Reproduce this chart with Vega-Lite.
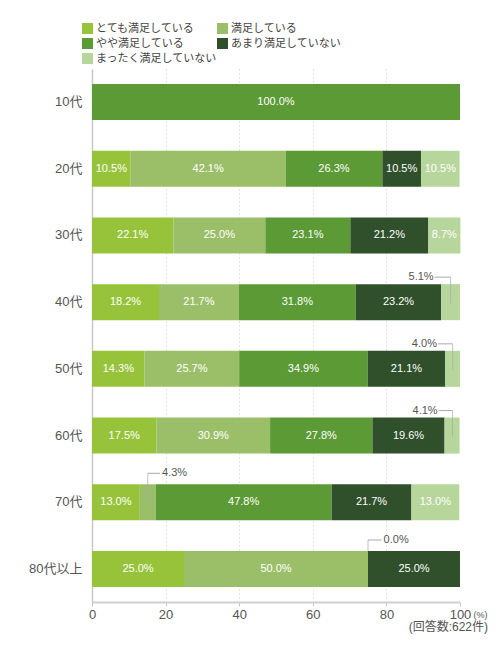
{
  "$schema": "https://vega.github.io/schema/vega-lite/v6.json",
  "autosize": "none",
  "padding": {"left": 92, "top": 69, "right": 40, "bottom": 43},
  "width": 368,
  "height": 533,
  "title": {
    "text": "(回答数:622件)",
    "orient": "bottom",
    "anchor": "end",
    "frame": "group",
    "fontSize": 12,
    "fontWeight": "normal",
    "color": "#555555",
    "dx": 28,
    "offset": 1
  },
  "config": {
    "background": "white",
    "font": "Liberation Sans, Noto Sans CJK JP",
    "view": {"stroke": null}
  },
  "datasets": {
    "main": [
      {"age": "10代", "k": 1, "cat": "とても満足している", "value": 0},
      {"age": "10代", "k": 2, "cat": "満足している", "value": 0},
      {"age": "10代", "k": 3, "cat": "やや満足している", "value": 100},
      {"age": "10代", "k": 4, "cat": "あまり満足していない", "value": 0},
      {"age": "10代", "k": 5, "cat": "まったく満足していない", "value": 0},
      {"age": "20代", "k": 1, "cat": "とても満足している", "value": 10.5},
      {"age": "20代", "k": 2, "cat": "満足している", "value": 42.1},
      {"age": "20代", "k": 3, "cat": "やや満足している", "value": 26.3},
      {"age": "20代", "k": 4, "cat": "あまり満足していない", "value": 10.5},
      {"age": "20代", "k": 5, "cat": "まったく満足していない", "value": 10.5},
      {"age": "30代", "k": 1, "cat": "とても満足している", "value": 22.1},
      {"age": "30代", "k": 2, "cat": "満足している", "value": 25.0},
      {"age": "30代", "k": 3, "cat": "やや満足している", "value": 23.1},
      {"age": "30代", "k": 4, "cat": "あまり満足していない", "value": 21.2},
      {"age": "30代", "k": 5, "cat": "まったく満足していない", "value": 8.7},
      {"age": "40代", "k": 1, "cat": "とても満足している", "value": 18.2},
      {"age": "40代", "k": 2, "cat": "満足している", "value": 21.7},
      {"age": "40代", "k": 3, "cat": "やや満足している", "value": 31.8},
      {"age": "40代", "k": 4, "cat": "あまり満足していない", "value": 23.2},
      {"age": "40代", "k": 5, "cat": "まったく満足していない", "value": 5.1},
      {"age": "50代", "k": 1, "cat": "とても満足している", "value": 14.3},
      {"age": "50代", "k": 2, "cat": "満足している", "value": 25.7},
      {"age": "50代", "k": 3, "cat": "やや満足している", "value": 34.9},
      {"age": "50代", "k": 4, "cat": "あまり満足していない", "value": 21.1},
      {"age": "50代", "k": 5, "cat": "まったく満足していない", "value": 4.0},
      {"age": "60代", "k": 1, "cat": "とても満足している", "value": 17.5},
      {"age": "60代", "k": 2, "cat": "満足している", "value": 30.9},
      {"age": "60代", "k": 3, "cat": "やや満足している", "value": 27.8},
      {"age": "60代", "k": 4, "cat": "あまり満足していない", "value": 19.6},
      {"age": "60代", "k": 5, "cat": "まったく満足していない", "value": 4.1},
      {"age": "70代", "k": 1, "cat": "とても満足している", "value": 13.0},
      {"age": "70代", "k": 2, "cat": "満足している", "value": 4.3},
      {"age": "70代", "k": 3, "cat": "やや満足している", "value": 47.8},
      {"age": "70代", "k": 4, "cat": "あまり満足していない", "value": 21.7},
      {"age": "70代", "k": 5, "cat": "まったく満足していない", "value": 13.0},
      {"age": "80代以上", "k": 1, "cat": "とても満足している", "value": 25.0},
      {"age": "80代以上", "k": 2, "cat": "満足している", "value": 50.0},
      {"age": "80代以上", "k": 3, "cat": "やや満足している", "value": 0},
      {"age": "80代以上", "k": 4, "cat": "あまり満足していない", "value": 25.0},
      {"age": "80代以上", "k": 5, "cat": "まったく満足していない", "value": 0}
    ],
    "callouts": [
      {"age": "40代", "xs": 97.45, "xl": 93.1, "label": "5.1%", "side": "left"},
      {"age": "50代", "xs": 98.0, "xl": 94.0, "label": "4.0%", "side": "left"},
      {"age": "60代", "xs": 97.95, "xl": 94.2, "label": "4.1%", "side": "left"},
      {"age": "70代", "xs": 15.15, "xl": 18.5, "label": "4.3%", "side": "right"},
      {"age": "80代以上", "xs": 75.0, "xl": 78.7, "label": "0.0%", "side": "right"}
    ]
  },
  "data": {"name": "main"},
  "encoding": {
    "y": {
      "field": "age",
      "type": "nominal",
      "sort": ["10代", "20代", "30代", "40代", "50代", "60代", "70代", "80代以上"],
      "scale": {"paddingInner": 0.46, "paddingOuter": 0.225},
      "axis": {
        "title": null,
        "ticks": false,
        "domainColor": "#c8c8c8",
        "domainWidth": 1.5,
        "labelFontSize": 13,
        "labelColor": "#555555",
        "labelPadding": 10
      }
    }
  },
  "layer": [
    {
      "transform": [
        {"stack": "value", "groupby": ["age"], "sort": [{"field": "k", "order": "ascending"}], "as": ["v0", "v1"]}
      ],
      "mark": {"type": "bar"},
      "encoding": {
        "x": {
          "field": "v0",
          "type": "quantitative",
          "scale": {"domain": [0, 100], "nice": false},
          "axis": {
            "title": "(%)",
            "values": [0, 20, 40, 60, 80, 100],
            "labelFlush": false,
            "grid": true,
            "gridDash": [1, 3],
            "gridColor": "#c8c8c8",
            "gridOpacity": {"condition": {"test": "datum.value > 0 && datum.value < 100", "value": 1}, "value": 0},
            "domainColor": "#d0d0d0",
            "domainWidth": 2,
            "tickColor": "#c8c8c8",
            "tickSize": 4,
            "labelFontSize": 13,
            "labelColor": "#555555",
            "labelPadding": 2,
            "titleX": 381,
            "titleY": 12,
            "titleAlign": "left",
            "titleBaseline": "middle",
            "titleFontSize": 9,
            "titleFontWeight": "normal",
            "titleColor": "#555555"
          }
        },
        "x2": {"field": "v1"},
        "color": {
          "field": "cat",
          "type": "nominal",
          "scale": {
            "domain": ["とても満足している", "満足している", "やや満足している", "あまり満足していない", "まったく満足していない"],
            "range": ["#97c33a", "#9bbf69", "#5b9a35", "#2f502b", "#b7d69b"]
          },
          "legend": {
            "title": null,
            "orient": "none",
            "legendX": -10,
            "legendY": -46,
            "direction": "horizontal",
            "columns": 2,
            "columnPadding": -16,
            "rowPadding": 3,
            "symbolType": "square",
            "symbolSize": 121,
            "symbolStrokeWidth": 0,
            "symbolOpacity": 1,
            "labelFontSize": 11,
            "labelColor": "#444444",
            "labelOffset": 3
          }
        }
      }
    },
    {
      "transform": [
        {"stack": "value", "groupby": ["age"], "sort": [{"field": "k", "order": "ascending"}], "as": ["v0", "v1"]},
        {"filter": "datum.value >= 6"},
        {"calculate": "(datum.v0 + datum.v1) / 2", "as": "mid"},
        {"calculate": "format(datum.value, '.1f') + '%'", "as": "lbl"}
      ],
      "mark": {"type": "text", "color": "white", "fontSize": 11, "baseline": "middle"},
      "encoding": {
        "x": {"field": "mid", "type": "quantitative"},
        "text": {"field": "lbl"}
      }
    },
    {
      "data": {"name": "callouts"},
      "transform": [{"filter": "datum.side === 'left'"}],
      "mark": {"type": "rule", "color": "#aaaaaa", "strokeWidth": 1, "yOffset": -25},
      "encoding": {
        "x": {"field": "xs", "type": "quantitative"},
        "x2": {"field": "xl"}
      }
    },
    {
      "data": {"name": "callouts"},
      "transform": [{"filter": "datum.side === 'left'"}],
      "mark": {"type": "tick", "color": "#aaaaaa", "thickness": 1, "size": 26, "yOffset": -12},
      "encoding": {
        "x": {"field": "xs", "type": "quantitative"}
      }
    },
    {
      "data": {"name": "callouts"},
      "transform": [{"filter": "datum.side === 'left'"}],
      "mark": {"type": "text", "align": "right", "baseline": "middle", "dx": -1, "yOffset": -25, "fontSize": 11, "color": "#555555"},
      "encoding": {
        "x": {"field": "xl", "type": "quantitative"},
        "text": {"field": "label"}
      }
    },
    {
      "data": {"name": "callouts"},
      "transform": [{"filter": "datum.side === 'right'"}],
      "mark": {"type": "rule", "color": "#aaaaaa", "strokeWidth": 1, "yOffset": -29},
      "encoding": {
        "x": {"field": "xs", "type": "quantitative"},
        "x2": {"field": "xl"}
      }
    },
    {
      "data": {"name": "callouts"},
      "transform": [{"filter": "datum.side === 'right' && datum.age === '70代'"}],
      "mark": {"type": "tick", "color": "#aaaaaa", "thickness": 1, "size": 29, "yOffset": -14.5},
      "encoding": {
        "x": {"field": "xs", "type": "quantitative"}
      }
    },
    {
      "data": {"name": "callouts"},
      "transform": [{"filter": "datum.age === '80代以上'"}],
      "mark": {"type": "tick", "color": "#aaaaaa", "thickness": 1, "size": 11, "yOffset": -23.5},
      "encoding": {
        "x": {"field": "xs", "type": "quantitative"}
      }
    },
    {
      "data": {"name": "callouts"},
      "transform": [{"filter": "datum.side === 'right'"}],
      "mark": {"type": "text", "align": "left", "baseline": "middle", "dx": 2, "yOffset": -29, "fontSize": 11, "color": "#555555"},
      "encoding": {
        "x": {"field": "xl", "type": "quantitative"},
        "text": {"field": "label"}
      }
    }
  ]
}
